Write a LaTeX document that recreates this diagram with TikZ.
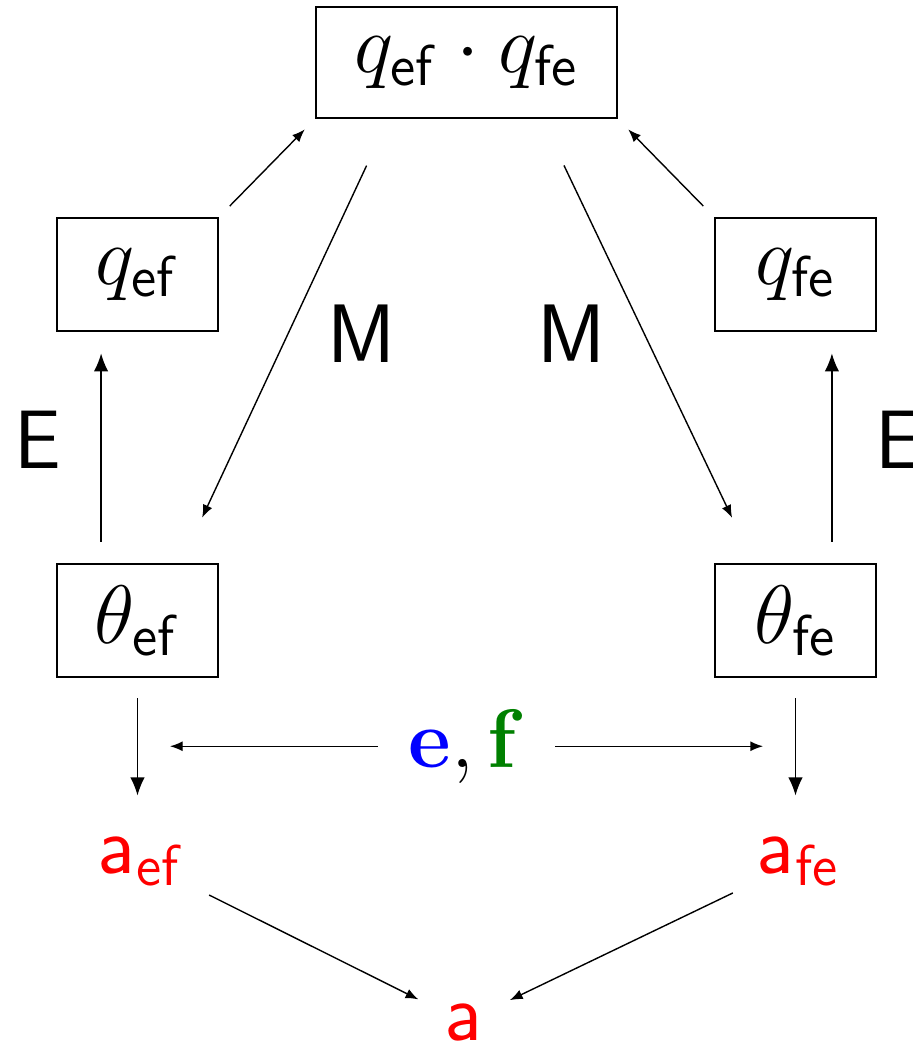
\documentclass[tikz,border=0pt]{standalone}
\usetikzlibrary{arrows.meta}
\definecolor{darkgreen}{RGB}{0,128,0}
\begin{document}
\begin{tikzpicture}[x=0.25pt, y=-0.25pt,
    every node/.style={font=\huge, inner sep=0pt},
    box/.style={draw, line width=0.7pt, minimum width=40.25pt, minimum height=28.25pt},
    big/.style={-{Latex[length=4.5pt,width=3.6pt]}, line width=0.35pt},
    small/.style={-{Latex[length=3.2pt,width=2.5pt]}, line width=0.35pt}]
  \useasboundingbox (0,0) rectangle (912,1047);
  \node[box, minimum width=75.25pt, minimum height=27.75pt] (top) at (466.5,62.5) {$q_{\mathsf{ef}}\cdot q_{\mathsf{fe}}$};
  \node[box] (qef) at (137.5,274.5) {$q_{\mathsf{ef}}$};
  \node[box] (qfe) at (795.5,274.5) {$q_{\mathsf{fe}}$};
  \node[box] (tef) at (137.5,620.5) {$\theta_{\mathsf{ef}}$};
  \node[box] (tfe) at (795.5,620.5) {$\theta_{\mathsf{fe}}$};
  \node (eleft) at (37.5,439.5) {\sffamily E};
  \node (eright) at (898.5,439.5) {\sffamily E};
  \node (mleft) at (361.5,333.5) {\sffamily M};
  \node (mright) at (572,333.5) {\sffamily M};
  \node[anchor=base] (ef) at (466.5,767) {${\color{blue}\mathbf{e}},{\color{darkgreen}\mathbf{f}}$};
  \node[anchor=base west, text=red] (aef) at (98,873) {$\mathsf{a}_{\mathsf{ef}}$};
  \node[anchor=base west, text=red] (afe) at (757,873) {$\mathsf{a}_{\mathsf{fe}}$};
  \node[anchor=base, text=red] (a) at (464,1040) {$\mathsf{a}$};
  \draw[big, shorten <=5.25pt, shorten >=5.25pt] ([xshift=-9.1pt]tef.north) -- ([xshift=-9.1pt]qef.south);
  \draw[big, shorten <=5.25pt, shorten >=5.25pt] ([xshift=9.1pt]tfe.north) -- ([xshift=9.1pt]qfe.south);
  \draw[small, shorten <=3.7pt, shorten >=3.5pt] (qef.north east) -- (top.south west);
  \draw[small, shorten <=3.7pt, shorten >=3.5pt] (qfe.north west) -- (top.south east);
  \draw[small, shorten <=12.75pt, shorten >=12.4pt] (top.216.7) -- (tef.53.7);
  \draw[small, shorten <=12.75pt, shorten >=12.4pt] (top.323.3) -- (tfe.126.3);
  \draw[big, shorten <=5pt, shorten >=10.25pt] (tef.south) -- (tef.south |- aef.north);
  \draw[big, shorten <=5pt, shorten >=10.25pt] (tfe.south) -- (tfe.south |- afe.north);
  \draw[small, shorten <=7.5pt, shorten >=8.1pt] (ef.west) -- (ef.west -| tef.south);
  \draw[small, shorten <=7.5pt, shorten >=8.1pt] (ef.east) -- (ef.east -| tfe.south);
  \draw[small, shorten <=6.7pt, shorten >=7.3pt] (aef) -- (a);
  \draw[small, shorten <=6.7pt, shorten >=7.3pt] (afe) -- (a);
\end{tikzpicture}
\end{document}
